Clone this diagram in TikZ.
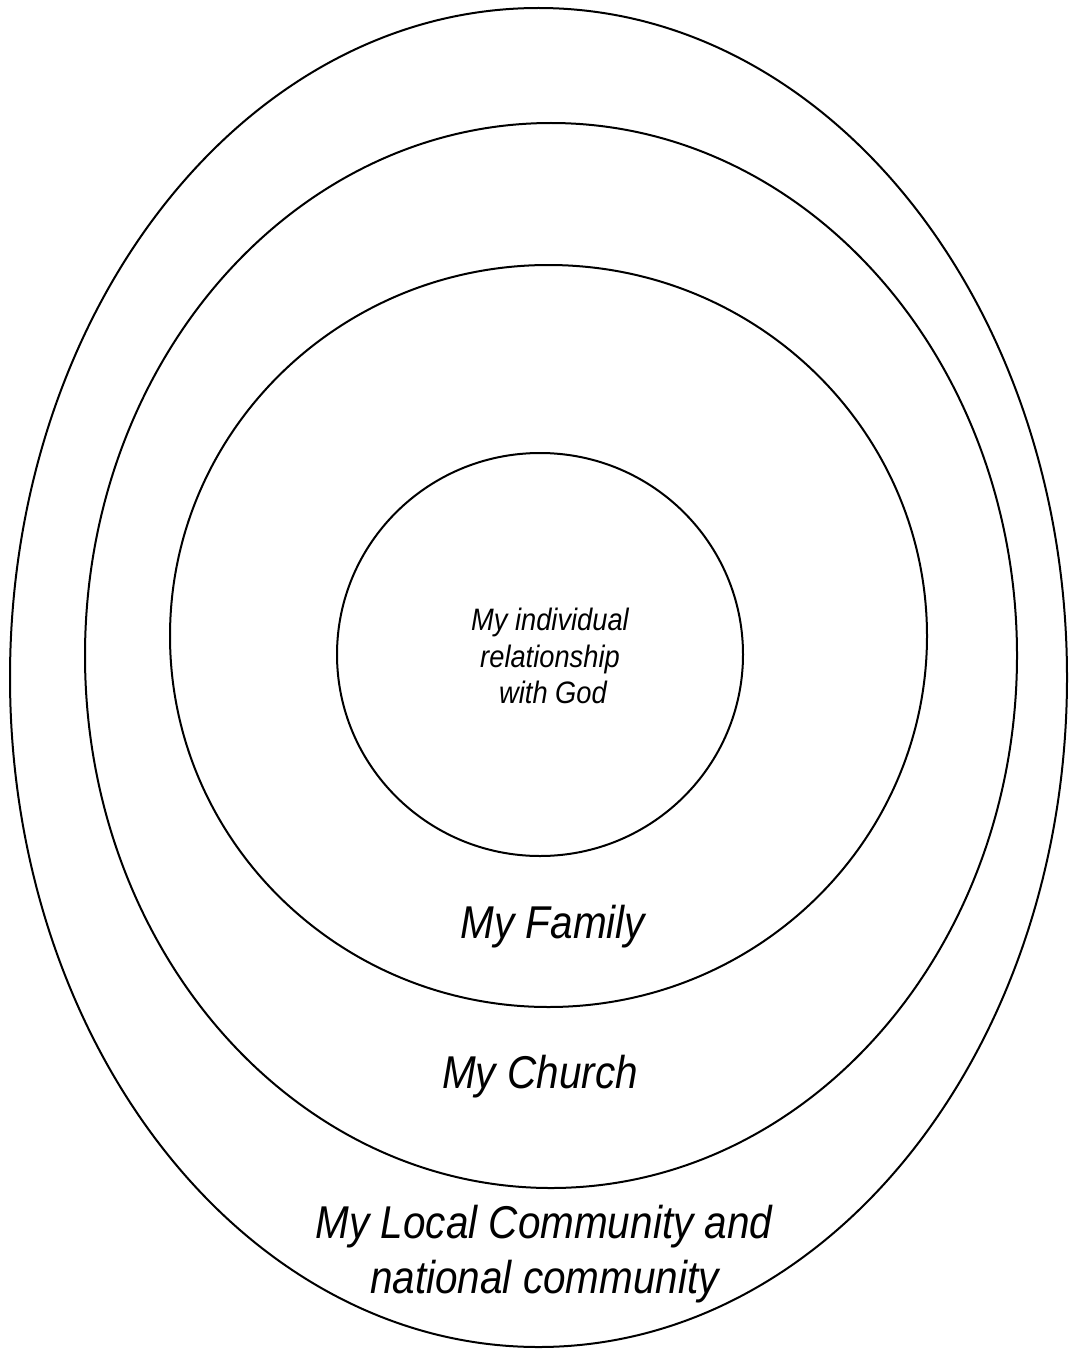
\documentclass[tikz,border=0pt]{standalone}
\usepackage{fontspec}
\setmainfont{Liberation Sans}[FakeStretch=0.88]
\begin{document}
\begin{tikzpicture}[x=1pt,y=-1pt,
  ring/.style={line width=2pt},
  biglbl/.style={font=\itshape\fontsize{46}{55}\selectfont, anchor=base, inner sep=0pt},
  smalllbl/.style={font=\itshape\fontsize{31}{37}\selectfont, anchor=base, inner sep=0pt}]
\useasboundingbox (0,0) rectangle (1069,1351);
\draw[ring] (538.5,677.5) ellipse [x radius=528.5, y radius=669.5];
\draw[ring] (551,655.5) ellipse [x radius=466, y radius=532.5];
\draw[ring] (548.5,636) ellipse [x radius=378.5, y radius=371];
\draw[ring] (540,654.5) ellipse [x radius=203, y radius=201.5];
\node[smalllbl] (god1) at (550,630) {My individual};
\node[smalllbl] (god2) at (550,667) {relationship};
\node[smalllbl] (god3) at (553,703) {with God};
\node[biglbl] (family) at (553,938) {My Family};
\node[biglbl] (church) at (540,1088) {My Church};
\node[biglbl] (local1) at (544,1238) {My Local Community and};
\node[biglbl] (local2) at (544.5,1293) {national community};
\end{tikzpicture}
\end{document}
